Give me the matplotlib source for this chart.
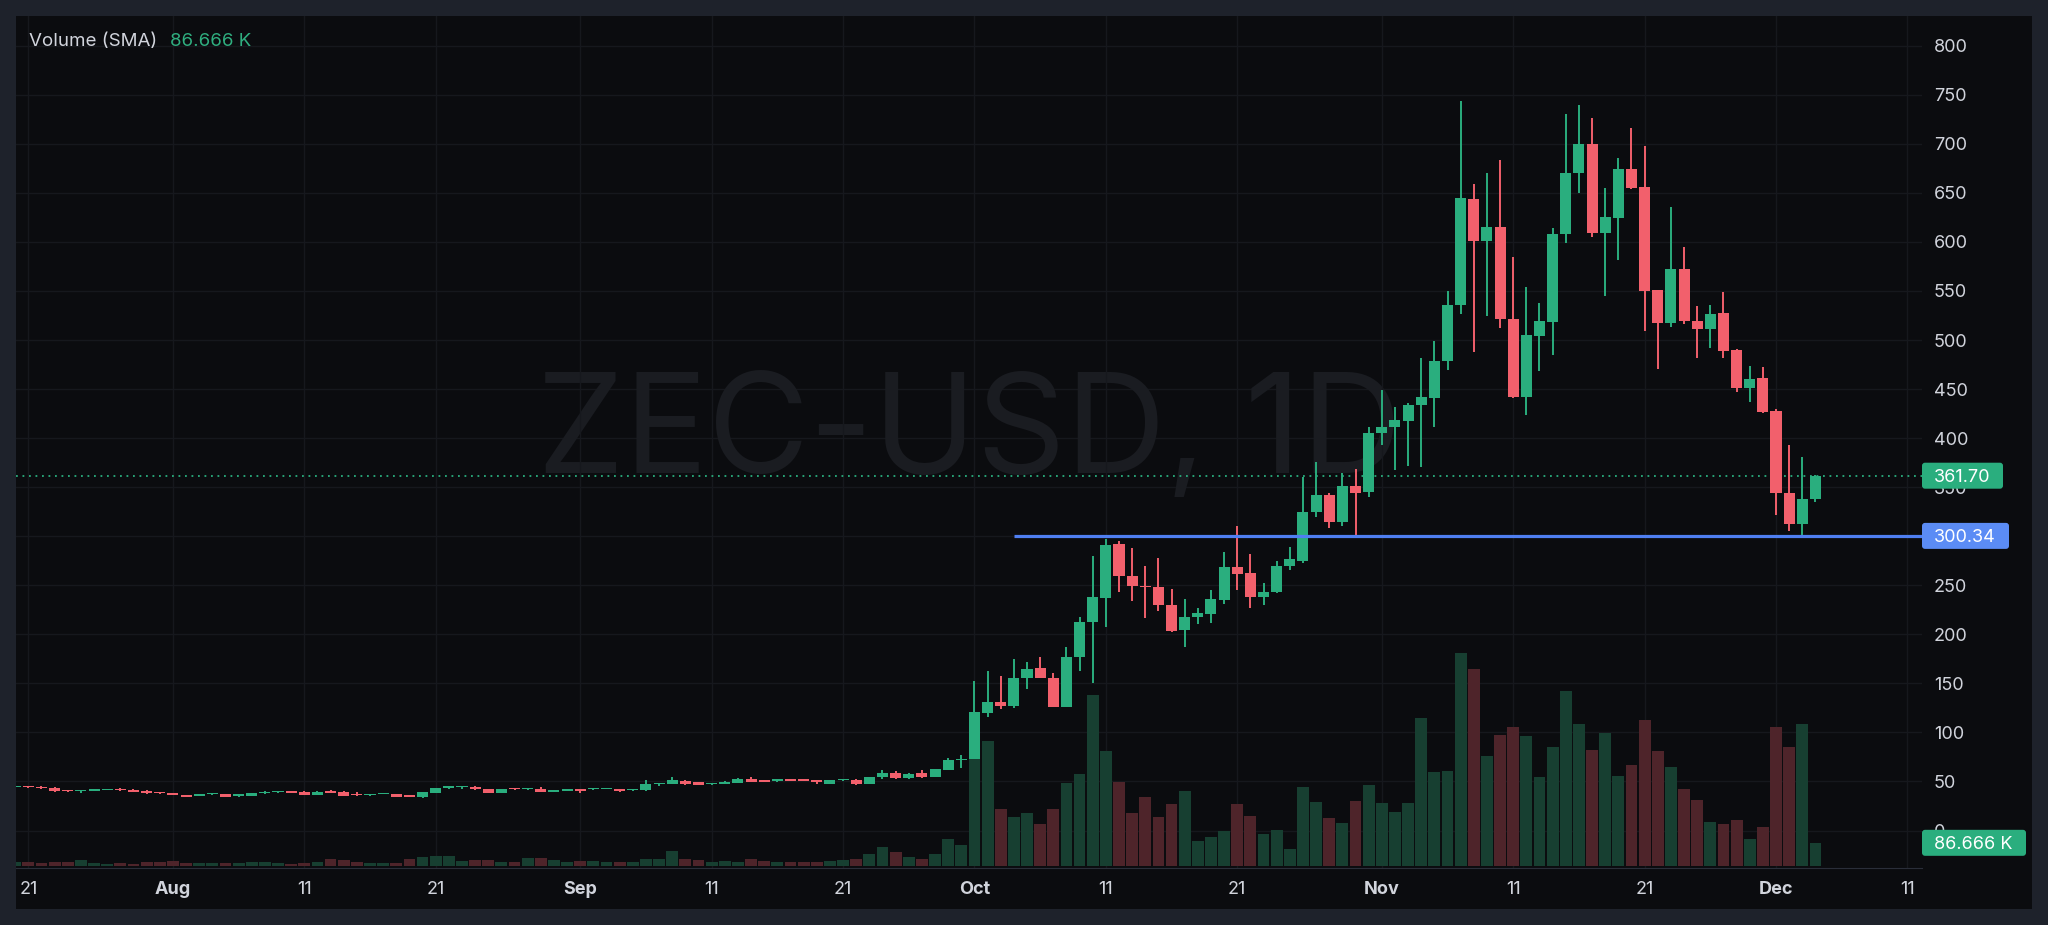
import numpy as np
import pandas as pd
import matplotlib
matplotlib.use('Agg')
import matplotlib.pyplot as plt
import matplotlib.dates as mdates
from matplotlib.patches import FancyBboxPatch, Rectangle
from matplotlib.lines import Line2D
from matplotlib.transforms import IdentityTransform, blended_transform_factory

plt.rcParams['font.family'] = ['Inter', 'DejaVu Sans']

# ZEC-USD daily candles, 2025-07-20 .. 2025-12-04
dates = pd.date_range('2025-07-20', '2025-12-04', freq='D')

opens = [
    # Jul 20-31
    44.5, 45.4, 44.7, 43.7, 41.3, 40.3, 40.7, 41.3, 42.3, 41.0, 40.3, 39.3,
    # Aug
    37.9, 36.2, 35.6, 36.9, 37.3, 35.2, 35.6, 37.9, 39.0, 40.3, 39.7, 36.2, 40.3, 39.7, 37.6, 35.9,
    37.3, 37.3, 36.2, 33.9, 38.6, 43.7, 44.0, 44.7, 42.3, 38.6, 43.0, 41.9, 42.6, 39.6, 40.6,
    # Sep
    41.9, 42.0, 42.2, 42.3, 40.9, 40.9, 47.0, 47.4, 50.8, 49.1, 47.0, 47.4, 48.7, 52.8, 51.5,
    50.8, 52.1, 51.8, 51.1, 47.7, 51.1, 51.8, 47.7, 54.2, 58.6, 53.2, 58.2, 54.9, 61.6, 71.8,
    # Oct
    73.2, 120.1, 131.3, 126.9, 155.5, 166.0, 155.5, 126.2, 176.5, 212.5, 236.7, 292.0, 259.8, 249.2,
    247.9, 229.9, 204.0, 217.3, 221.0, 235.0, 268.6, 262.5, 238.0, 242.8, 269.6, 275.1, 324.3,
    341.6, 314.8, 351.5, 344.7,
    # Nov
    404.8, 411.6, 417.8, 433.5, 441.2, 478.9, 535.3, 643.4, 600.9, 615.2, 521.0, 441.9, 504.4,
    518.7, 608.4, 669.9, 699.4, 609.4, 624.7, 674.3, 655.6, 550.6, 517.0, 572.3, 519.3, 511.2,
    527.2, 489.8, 451.0, 461.2,
    # Dec
    427.3, 343.8, 312.6, 338.4,
]
highs = [
    45.6, 45.8, 45.0, 44.2, 41.6, 41.6, 42.0, 42.6, 43.4, 42.0, 41.0, 39.7,
    38.3, 36.6, 37.2, 38.3, 37.6, 37.3, 38.2, 39.9, 40.6, 40.6, 40.0, 40.3, 41.3, 40.6, 39.0, 37.6,
    38.3, 37.6, 36.6, 39.3, 43.4, 45.0, 45.4, 45.0, 42.6, 42.6, 43.6, 43.2, 44.0, 40.9, 41.9,
    42.2, 42.9, 43.0, 42.6, 42.6, 51.5, 48.7, 54.5, 51.8, 49.4, 48.7, 50.1, 53.1, 54.9, 51.8,
    52.8, 52.4, 52.1, 51.4, 51.4, 52.6, 52.1, 54.8, 61.7, 60.6, 58.2, 61.7, 62.6, 73.5, 76.6,
    152.4, 162.6, 157.5, 175.2, 171.8, 176.9, 160.9, 187.1, 217.3, 279.5, 297.1, 295.4, 288.0, 269.6,
    277.4, 245.8, 235.6, 226.5, 245.2, 283.6, 310.4, 281.9, 252.6, 274.4, 288.7, 360.7, 375.3,
    344.4, 364.1, 368.5, 411.6,
    449.5, 431.4, 435.4, 482.0, 499.3, 549.9, 743.9, 658.6, 670.2, 683.5, 584.9, 553.7, 538.0,
    614.5, 730.0, 739.2, 726.6, 654.9, 685.2, 716.1, 697.7, 551.0, 635.2, 594.4, 534.6, 535.3,
    548.9, 490.5, 473.8, 472.1,
    429.6, 392.7, 380.5, 362.8,
]
lows = [
    43.9, 43.7, 42.3, 39.5, 39.0, 38.6, 40.3, 41.0, 40.7, 39.4, 36.9, 36.9,
    35.9, 34.2, 34.9, 36.6, 34.2, 34.5, 35.3, 37.6, 38.7, 38.3, 35.9, 35.9, 37.9, 35.3, 35.6, 35.6,
    37.0, 34.2, 34.2, 33.6, 37.9, 42.0, 42.3, 41.7, 38.3, 38.3, 41.6, 41.6, 38.9, 39.3, 40.3,
    38.5, 41.7, 41.9, 39.6, 40.6, 40.6, 45.3, 47.1, 46.7, 46.4, 46.7, 47.1, 48.4, 49.1, 49.1,
    49.4, 50.1, 50.5, 47.7, 47.4, 50.8, 46.7, 47.4, 52.1, 52.9, 52.9, 53.2, 54.6, 61.3, 63.7,
    72.9, 116.0, 123.5, 124.5, 144.6, 155.0, 125.5, 125.5, 162.9, 150.0, 207.8, 242.8, 234.3, 216.3,
    223.4, 202.4, 186.7, 210.2, 211.9, 230.5, 245.2, 226.5, 229.9, 241.8, 265.5, 273.0, 319.9,
    308.0, 310.7, 300.34, 339.6,
    393.0, 367.5, 371.5, 370.9, 411.0, 469.4, 526.1, 488.1, 524.8, 511.9, 441.2, 423.2, 468.7,
    485.0, 598.5, 650.2, 605.3, 545.2, 581.5, 653.5, 509.5, 470.1, 513.6, 516.0, 482.0, 492.2,
    481.3, 447.3, 437.1, 425.6,
    321.2, 305.6, 300.8, 334.9,
]
closes = [
    45.0, 44.0, 43.4, 40.0, 40.0, 41.3, 41.7, 42.3, 41.0, 39.7, 37.9, 37.9,
    36.2, 34.5, 36.9, 37.9, 34.5, 36.9, 37.9, 39.3, 40.3, 38.6, 36.2, 39.7, 38.6, 35.6, 35.9, 37.3,
    37.9, 34.5, 34.5, 38.9, 43.0, 44.7, 45.1, 42.0, 38.6, 42.3, 42.0, 42.9, 39.2, 40.6, 41.6,
    40.2, 42.6, 42.6, 40.6, 42.3, 47.7, 48.4, 51.5, 47.0, 46.7, 48.4, 49.8, 52.8, 49.4, 49.4,
    51.8, 50.4, 50.8, 49.4, 51.1, 52.1, 47.7, 54.5, 58.9, 53.2, 57.9, 54.2, 62.3, 71.8, 72.5,
    120.5, 130.6, 127.3, 155.5, 165.0, 155.1, 126.2, 176.5, 212.5, 238.4, 291.0, 259.4, 249.2, 247.9,
    229.5, 203.4, 217.3, 221.4, 235.6, 268.3, 261.8, 238.0, 243.1, 269.3, 276.4, 325.0, 341.6,
    314.8, 351.5, 344.4, 405.5,
    411.6, 418.8, 433.7, 441.5, 478.9, 535.3, 644.4, 600.9, 615.2, 521.7, 441.9, 504.7, 519.0,
    608.0, 670.2, 699.4, 609.4, 625.0, 674.3, 655.2, 550.3, 517.0, 572.0, 519.3, 511.2, 526.8,
    489.1, 451.0, 460.2, 426.2,
    343.8, 312.6, 338.4, 361.7,
]
# volume in thousands
volumes = [
    16, 17, 13, 17, 17, 22, 11, 9, 11, 9, 15, 15,
    20, 11, 11, 11, 11, 11, 17, 17, 13, 10, 13, 17, 26, 23, 17, 11, 11, 13, 26, 35,
    38, 38, 21, 22, 23, 17, 17, 32, 32, 22, 15,
    20, 20, 17, 15, 15, 28, 26, 56, 26, 23, 15, 20, 17, 28, 20, 17, 17, 15, 17, 20,
    23, 26, 45, 71, 52, 34, 26, 45, 99, 79,
    500, 459, 210, 181, 195, 155, 210, 306, 339, 626, 423, 311, 195, 256, 181, 229,
    275, 93, 107, 129, 229, 185, 118, 132, 65, 292, 235, 177, 161, 238, 298,
    232, 198, 233, 545, 345, 351, 780, 723, 405, 481, 509, 478, 327, 439, 643, 521,
    428, 487, 333, 372, 536, 422, 366, 284, 244, 163, 156, 170, 99, 145,
    509, 438, 521, 86.666,
]

last_price = 361.70
level_price = 300.34
level_start = '2025-10-04'
watermark = 'ZEC-USD, 1D'
legend_name = 'Volume (SMA)'
legend_value = '86.666 K'

price_ticks = list(range(0, 801, 50))
tick_dates = ['2025-07-21', '2025-08-01', '2025-08-11', '2025-08-21', '2025-09-01', '2025-09-11',
              '2025-09-21', '2025-10-01', '2025-10-11', '2025-10-21', '2025-11-01', '2025-11-11',
              '2025-11-21', '2025-12-01', '2025-12-11']
tick_labels = ['21', 'Aug', '11', '21', 'Sep', '11', '21', 'Oct', '11', '21', 'Nov', '11', '21', 'Dec', '11']

# colours
FRAME = '#1e222b'
BG = '#0b0c0f'
GRID = '#16181d'
TXT = '#d1d4dc'
UP = '#2aae7e'
DOWN = '#f2606c'
UP_VOL = '#173f31'
DOWN_VOL = '#4e242a'
BLUE = '#4f7ff2'
BLUE_TAG = '#5b8cf5'
WM = '#1a1c21'

W, H = 2048, 925
fig = plt.figure(figsize=(W / 100, H / 100), dpi=100, facecolor=FRAME)
fig.add_artist(Rectangle((16 / W, 16 / H), (2032 - 16) / W, (909 - 16) / H,
                         transform=fig.transFigure, fc=BG, ec='none', zorder=-1))

ax_vol = fig.add_axes([16 / W, (H - 868) / H, 1906 / W, 852 / H])
ax_vol.set_facecolor(BG)
ax = ax_vol.twinx()

x = mdates.date2num(dates)
o = np.array(opens)
c = np.array(closes)
up = c >= o

# volume pane
ax_vol.bar(x, volumes, width=0.9, color=np.where(up, UP_VOL, DOWN_VOL), zorder=2)
ax_vol.text(0.5, 0.4636, watermark, transform=ax_vol.transAxes, ha='center', va='baseline',
            fontsize=100, fontweight='normal', color=WM, zorder=0.3)

# horizontal grid at price levels, drawn under the volume bars
grid_tr = blended_transform_factory(ax_vol.transAxes, ax.transData)
for p in price_ticks:
    ax_vol.add_line(Line2D([0, 1], [p, p], transform=grid_tr, color=GRID, lw=1, zorder=0.2))

x_first = mdates.date2num(pd.Timestamp('2025-07-21'))
ax_vol.set_xlim(x_first - 0.94, x_first - 0.94 + 145.05)
ax_vol.set_ylim(-5.5, 3113)
ax_vol.set_xticks(mdates.date2num(pd.to_datetime(tick_dates)))
ax_vol.set_xticklabels(tick_labels)
for lbl in ax_vol.get_xticklabels():
    if not lbl.get_text().isdigit():
        lbl.set_fontweight('bold')
ax_vol.tick_params(axis='x', length=0, pad=9.5, labelsize=13, colors=TXT)
ax_vol.tick_params(axis='y', left=False, labelleft=False, right=False, labelright=False)
ax_vol.grid(axis='x', color=GRID, lw=1)
ax_vol.set_axisbelow(True)
for s in ['top', 'left', 'right']:
    ax_vol.spines[s].set_visible(False)
ax_vol.spines['bottom'].set_color('#2a2e39')

# candles
cols = np.where(up, UP, DOWN)
body_lo = np.minimum(o, c)
body_h = np.maximum(np.abs(c - o), 1.3)
ax.vlines(x, lows, highs, colors=cols, lw=1.4, zorder=3)
ax.bar(x, body_h, bottom=body_lo, width=0.84, color=cols, zorder=4)

ax.axhline(last_price, color=UP, lw=1.3, ls=(0, (1, 2.6)), zorder=2)
x_level = mdates.date2num(pd.Timestamp(level_start))
ax.hlines(level_price, x_level, ax_vol.get_xlim()[1], color=BLUE, lw=2.3, zorder=5)

ax.set_ylim(-38.2, 830.3)
ax.set_yticks(price_ticks)
ax.set_yticklabels([str(p) for p in price_ticks])
ax.tick_params(axis='y', length=0, pad=8.6, labelsize=13, colors=TXT)
for s in ax.spines.values():
    s.set_visible(False)


def price_tag(axis, value, text, color, width_px):
    yd = axis.transData.transform((0, value))[1]
    x_left = axis.transAxes.transform((1, 0))[0]
    fig.add_artist(FancyBboxPatch((x_left, yd - 13), width_px, 26,
                                  boxstyle='round,pad=0,rounding_size=3',
                                  fc=color, ec='none', transform=IdentityTransform(), zorder=5))
    fig.text(x_left + 12, yd - 6.6, text, transform=IdentityTransform(), color='white',
             fontsize=13, va='baseline', ha='left', zorder=6)


price_tag(ax, last_price, f'{last_price:.2f}', UP, 81)
price_tag(ax, level_price, f'{level_price:.2f}', BLUE_TAG, 87)
price_tag(ax_vol, volumes[-1], legend_value, UP, 104)

# legend, top left
fig.text(29 / W, 1 - 45.8 / H, legend_name, color=TXT, fontsize=13.5, va='baseline')
fig.text(170 / W, 1 - 45.8 / H, legend_value, color='#2fae7f', fontsize=13.5, va='baseline')

fig.savefig('out.png', dpi=100, facecolor=FRAME)
